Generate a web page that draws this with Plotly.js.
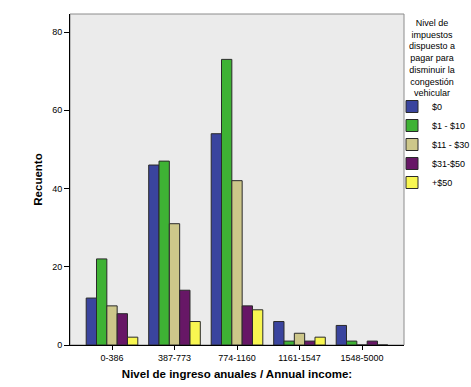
<!DOCTYPE html>
<html><head><meta charset="utf-8">
<script src="https://cdn.plot.ly/plotly-3.0.1.min.js"></script>
<style>html,body{margin:0;padding:0;background:#fff}#chart{width:471px;height:387px}</style>
</head><body><div id="chart"></div>
<script>
const categories = ["0-386", "387-773", "774-1160", "1161-1547", "1548-5000"];
const seriesNames = ["$0", "$1 - $10", "$11 - $30", "$31-$50", "+$50"];
const values0 = [12, 46, 54, 6, 5];
const values1 = [22, 47, 73, 1, 1];
const values2 = [10, 31, 42, 3, 0];
const values3 = [8, 14, 10, 1, 1];
const values4 = [2, 6, 9, 2, 0];
const yTicks = [0, 20, 40, 60, 80];
const colors = ["#3a449e", "#3eb234", "#cdc78a", "#671766", "#f8f651"];
const allValues = [values0, values1, values2, values3, values4];

const font = "Liberation Sans, Arial, sans-serif";
const traces = allValues.map((v, i) => ({
  type: "bar", name: seriesNames[i], x: categories, y: v,
  marker: {color: colors[i], line: {color: "#2a2a2a", width: 1}},
  hoverinfo: "x+y+name"
}));

const layout = {
  width: 471, height: 387,
  margin: {l: 70, r: 67, t: 14, b: 42, autoexpand: false},
  paper_bgcolor: "#ffffff", plot_bgcolor: "#ebebeb",
  font: {family: font, size: 9, color: "#000"},
  barmode: "group", bargap: 0.174, bargroupgap: 0,
  showlegend: true,
  xaxis: {
    type: "category", range: [-0.672, 4.672],
    showline: true, linecolor: "#000", linewidth: 1,
    ticks: "outside", ticklen: 4, tickcolor: "#000",
    showgrid: false, zeroline: false,
    tickfont: {family: font, size: 9},
    title: {text: "Nivel de ingreso anuales / Annual income:", font: {family: font, size: 11.5, weight: "bold"}, standoff: 8}
  },
  yaxis: {
    range: [0, 84.6], tickvals: yTicks, ticktext: yTicks.map(String),
    showline: true, linecolor: "#000", linewidth: 1,
    ticks: "outside", ticklen: 5, tickcolor: "#000",
    showgrid: false, zeroline: false,
    tickfont: {family: font, size: 9},
    title: {text: "Recuento", font: {family: font, size: 11.5, weight: "bold"}, standoff: 7}
  },
  legend: {
    xref: "container", yref: "container",
    x: 392 / 471, xanchor: "left", y: 1 - 92 / 387, yanchor: "top",
    bgcolor: "rgba(0,0,0,0)", borderwidth: 0,
    font: {family: font, size: 9}, itemwidth: 30, tracegroupgap: 0,
    itemclick: false
  },
  shapes: [{
    type: "rect", xref: "paper", yref: "paper", x0: 0, x1: 1, y0: 0, y1: 1,
    line: {color: "#8c8c8c", width: 1}, layer: "below"
  }],
  annotations: [{
    xref: "paper", yref: "paper", x: 1.0, xanchor: "left", xshift: 3,
    y: 1.0, yanchor: "top", yshift: -2, align: "center", showarrow: false,
    text: "Nivel de<br>impuestos<br>dispuesto a<br>pagar para<br>disminuir la<br>congestión<br>vehicular",
    font: {family: font, size: 9, color: "#000"}
  }]
};
Plotly.newPlot("chart", traces, layout, {staticPlot: true, displayModeBar: false});
</script></body></html>
